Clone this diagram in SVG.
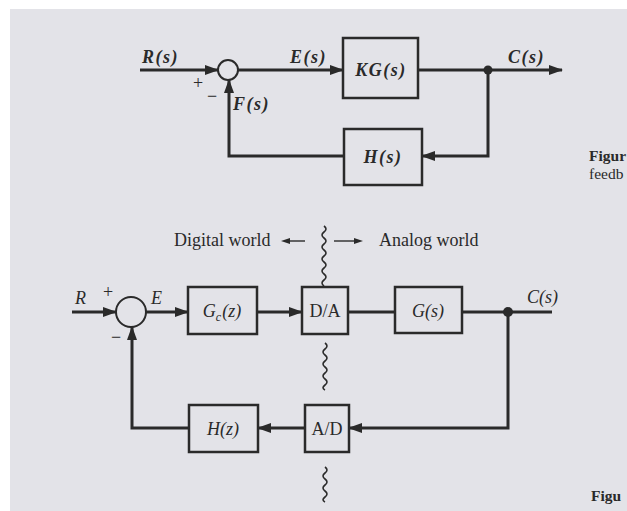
<svg xmlns="http://www.w3.org/2000/svg" width="627" height="511" viewBox="0 0 627 511">
<defs>
<marker id="ah" markerUnits="userSpaceOnUse" markerWidth="14" markerHeight="10" refX="13" refY="5" orient="auto">
<path d="M0,0 L14,5 L0,10 Z" fill="#2a2a2a"/>
</marker>
</defs>
<style>
.bg{fill:#e3e3e8}
.ln{fill:none;stroke:#2a2a2a;stroke-width:3}
.bx{fill:none;stroke:#2a2a2a;stroke-width:2.5}
.sj{fill:none;stroke:#2a2a2a;stroke-width:2}
.wv{fill:none;stroke:#2a2a2a;stroke-width:1.6}
.t1{font-family:"Liberation Serif",serif;font-size:18px;font-style:italic;font-weight:bold;fill:#2a2a2a;letter-spacing:1.5px}
.t2{font-family:"Liberation Serif",serif;font-size:18px;fill:#2a2a2a}
.it{font-style:italic}
.fg{font-family:"Liberation Serif",serif;font-size:15.5px;font-weight:bold;fill:#2a2a2a}
.fr{font-family:"Liberation Serif",serif;font-size:15.5px;fill:#2a2a2a}
</style>
<rect width="627" height="511" fill="#ffffff"/>
<rect class="bg" x="10" y="9" width="617" height="502"/>

<!-- top diagram -->
<g id="connectors-top">
<line class="ln" x1="140" y1="70" x2="218" y2="70" marker-end="url(#ah)"/>
<line class="ln" x1="238" y1="70" x2="343" y2="70" marker-end="url(#ah)"/>
<line class="ln" x1="418" y1="70" x2="562" y2="70" marker-end="url(#ah)"/>
<polyline class="ln" points="488,70 488,156 422,156" marker-end="url(#ah)"/>
<polyline class="ln" points="344,156 229,156 229,80" marker-end="url(#ah)"/>
<circle cx="488" cy="70" r="4.5" fill="#2a2a2a"/>
</g>
<g id="sum1">
<circle class="sj" cx="228" cy="70" r="10" fill="#e3e3e8"/>
<text class="t2" x="193" y="89" font-size="20">+</text>
<text class="t2" x="207" y="102" font-size="20">−</text>
</g>
<g id="KG">
<rect class="bx" x="343" y="38" width="75" height="60"/>
<text class="t1" x="381" y="76" text-anchor="middle">KG(s)</text>
</g>
<g id="Hs">
<rect class="bx" x="344" y="129" width="78" height="56"/>
<text class="t1" x="383" y="163" text-anchor="middle">H(s)</text>
</g>
<g id="labels-top">
<text class="t1" x="142" y="63">R(s)</text>
<text class="t1" x="290" y="63">E(s)</text>
<text class="t1" x="233" y="110">F(s)</text>
<text class="t1" x="508" y="63">C(s)</text>
</g>
<text class="fg" x="589" y="161">Figur</text>
<text class="fr" x="589" y="179">feedb</text>

<!-- digital / analog -->
<g id="world">
<text class="t2" x="174" y="246">Digital world</text>
<line x1="305" y1="241" x2="288" y2="241" stroke="#2a2a2a" stroke-width="1.4"/>
<path d="M281,241 l9,-3 l0,6 Z" fill="#2a2a2a"/>
<line x1="334" y1="241" x2="355" y2="241" stroke="#2a2a2a" stroke-width="1.4"/>
<path d="M363,241 l-9,-3 l0,6 Z" fill="#2a2a2a"/>
<text class="t2" x="379" y="246">Analog world</text>
<path class="wv" d="M324,226 q4,3 0,6 q-4,3 0,6 q4,3 0,6 q-4,3 0,6 q4,3 0,6 q-4,3 0,6 q4,3 0,6 q-4,3 0,6 q4,3 0,6 q-4,3 0,6"/>
</g>

<!-- bottom diagram -->
<g id="connectors-bottom">
<line class="ln" x1="72" y1="312" x2="116" y2="312" marker-end="url(#ah)"/>
<line class="ln" x1="146" y1="312" x2="188" y2="312" marker-end="url(#ah)"/>
<line class="ln" x1="257" y1="312" x2="302" y2="312" marker-end="url(#ah)"/>
<line class="ln" x1="348" y1="312" x2="395" y2="312"/>
<line class="ln" x1="462" y1="312" x2="552" y2="312"/>
<polyline class="ln" points="508,312 508,428 349,428" marker-end="url(#ah)"/>
<line class="ln" x1="305" y1="428" x2="258" y2="428" marker-end="url(#ah)"/>
<polyline class="ln" points="189,428 132,428 132,327" marker-end="url(#ah)"/>
<circle cx="508" cy="312" r="5" fill="#2a2a2a"/>
</g>
<g id="sum2">
<circle class="sj" cx="131" cy="312" r="15" fill="#e3e3e8"/>
<text class="t2" x="103" y="298">+</text>
<text class="t2" x="111" y="343">−</text>
</g>
<g id="Gc">
<rect class="bx" x="188" y="287" width="69" height="47"/>
<text class="t2 it" x="222" y="317" text-anchor="middle">G<tspan font-size="12" dy="4">c</tspan><tspan dy="-4" dx="1">(z)</tspan></text>
</g>
<g id="DA">
<rect class="bx" x="302" y="287" width="46" height="47"/>
<text class="t2" x="325" y="317" text-anchor="middle">D/A</text>
</g>
<g id="Gs">
<rect class="bx" x="395" y="287" width="67" height="46"/>
<text class="t2 it" x="428" y="317" text-anchor="middle">G(s)</text>
</g>
<g id="AD">
<rect class="bx" x="305" y="405" width="44" height="47"/>
<text class="t2" x="327" y="435" text-anchor="middle">A/D</text>
</g>
<g id="Hz">
<rect class="bx" x="189" y="405" width="69" height="47"/>
<text class="t2 it" x="223" y="435" text-anchor="middle">H(z)</text>
</g>
<g id="labels-bottom">
<text class="t2 it" x="75" y="304">R</text>
<text class="t2 it" x="151" y="304">E</text>
<text class="t2 it" x="527" y="303">C(s)</text>
</g>
<path class="wv" d="M325,343 q4,3 0,6 q-4,3 0,6 q4,3 0,6 q-4,3 0,6 q4,3 0,6 q-4,3 0,6 q4,3 0,6 q-4,3 0,5"/>
<path class="wv" d="M325,467 q4,3 0,6 q-4,3 0,6 q4,3 0,6 q-4,3 0,6 q4,3 0,6 q-4,3 0,5"/>
<text class="fg" x="591" y="501">Figu</text>
</svg>
